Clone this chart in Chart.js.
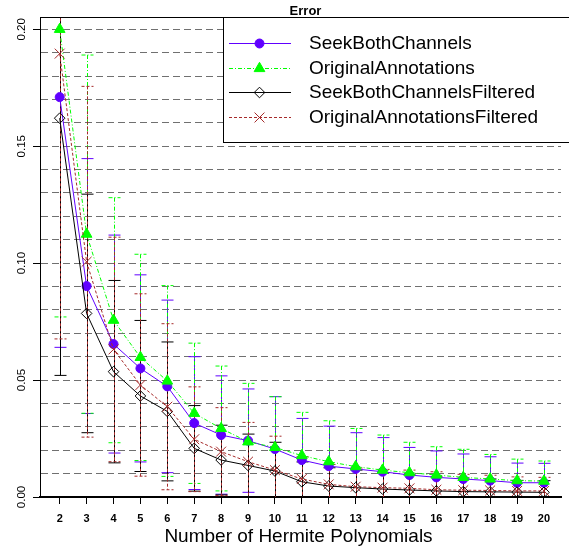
<!DOCTYPE html>
<html>
<head>
<meta charset="utf-8">
<script src="https://cdn.jsdelivr.net/npm/chart.js"></script>
<style>
  html, body { margin: 0; padding: 0; background: #fff; }
  #wrap { width: 569px; height: 547px; }
</style>
</head>
<body>
<div id="wrap"><canvas id="errChart" width="569" height="547"></canvas></div>
<script>
// values: mean error and its spread per number of polynomials
const polyCounts = [2, 3, 4, 5, 6, 7, 8, 9, 10, 11, 12, 13, 14, 15, 16, 17, 18, 19, 20];

const seekBoth = [0.171, 0.0902, 0.0654, 0.055, 0.0473, 0.0316, 0.0265, 0.0241, 0.0205, 0.0158, 0.0132, 0.012, 0.0108, 0.0094, 0.0084, 0.0077, 0.007, 0.0061, 0.0061];
const seekBothSd = [0.107, 0.0545, 0.0466, 0.040, 0.0369, 0.0284, 0.0253, 0.0221, 0.0224, 0.0178, 0.0171, 0.0155, 0.0146, 0.0118, 0.0113, 0.0107, 0.0102, 0.0084, 0.0083];

const original = [0.200, 0.1124, 0.0756, 0.0597, 0.0496, 0.0358, 0.0293, 0.0236, 0.0212, 0.0177, 0.0151, 0.013, 0.0115, 0.0104, 0.0094, 0.0084, 0.0077, 0.007, 0.0068];
const originalSd = [0.123, 0.0766, 0.0524, 0.0441, 0.0408, 0.030, 0.0267, 0.025, 0.0217, 0.0185, 0.0175, 0.0163, 0.015, 0.013, 0.0121, 0.012, 0.0105, 0.0092, 0.0086];

const seekFiltered = [0.162, 0.0785, 0.0536, 0.0432, 0.0366, 0.0208, 0.0158, 0.0135, 0.0111, 0.0065, 0.0047, 0.004, 0.0034, 0.003, 0.0026, 0.0023, 0.0022, 0.0021, 0.002];
const seekFilteredSd = [0.110, 0.051, 0.039, 0.0323, 0.0297, 0.0183, 0.0149, 0.0134, 0.0123, 0.0085, 0.0078, 0.0075, 0.007, 0.0065, 0.006, 0.0058, 0.0055, 0.005, 0.005];

const originalFiltered = [0.1896, 0.1006, 0.0631, 0.0479, 0.0386, 0.0247, 0.0194, 0.0151, 0.0115, 0.0077, 0.0054, 0.0044, 0.004, 0.0037, 0.0031, 0.0029, 0.0028, 0.0026, 0.0026];
const originalFilteredSd = [0.122, 0.075, 0.048, 0.039, 0.0355, 0.0224, 0.0188, 0.0168, 0.0145, 0.0095, 0.0085, 0.008, 0.0078, 0.0078, 0.0077, 0.0068, 0.0065, 0.006, 0.0058];

const seriesNames = ['SeekBothChannels', 'OriginalAnnotations', 'SeekBothChannelsFiltered', 'OriginalAnnotationsFiltered'];
const chartTitle = 'Error';
const xTitle = 'Number of Hermite Polynomials';

const FONT = '"Liberation Sans", Arial, Helvetica, sans-serif';
Chart.defaults.font.family = FONT;
Chart.defaults.color = '#000';

function toPoints(values) {
    return polyCounts.map((n, i) => ({ x: n, y: values[i] }));
}

function makeSet(label, values, sd, color, style, radius, fill, dash, order) {
    return {
        label,
        data: toPoints(values),
        sd,
        borderColor: color,
        borderWidth: 1,
        borderDash: dash,
        backgroundColor: fill,
        pointStyle: style,
        pointRadius: radius,
        pointBorderColor: color,
        pointBackgroundColor: fill,
        pointBorderWidth: 1,
        tension: 0,
        fill: false,
        order
    };
}

// error bars, drawn under the lines and marks
const errorBars = {
    id: 'errorBars',
    beforeDatasetsDraw(chart) {
        const { ctx, chartArea: a, scales: { x, y } } = chart;
        ctx.save();
        ctx.beginPath();
        ctx.rect(a.left, a.top, a.right - a.left, a.bottom - a.top);
        ctx.clip();
        chart.data.datasets.forEach(ds => {
            ctx.strokeStyle = ds.borderColor;
            ctx.lineWidth = 1;
            ctx.setLineDash(ds.borderDash || []);
            ds.data.forEach((p, i) => {
                const px = Math.round(x.getPixelForValue(p.x)) + 0.5;
                const top = y.getPixelForValue(p.y + ds.sd[i]);
                const bot = y.getPixelForValue(p.y - ds.sd[i]);
                ctx.beginPath();
                ctx.moveTo(px, top); ctx.lineTo(px, bot);
                ctx.moveTo(px - 6, top); ctx.lineTo(px + 6, top);
                ctx.moveTo(px - 6, bot); ctx.lineTo(px + 6, bot);
                ctx.stroke();
            });
        });
        ctx.restore();
    }
};

// box top, legend in the corner, title texts
const decorations = {
    id: 'decorations',
    afterDraw(chart) {
        const { ctx, chartArea: a } = chart;
        ctx.save();
        ctx.strokeStyle = '#000';
        ctx.lineWidth = 1;
        ctx.setLineDash([]);
        ctx.beginPath();
        ctx.moveTo(a.left, a.top + 0.5);
        ctx.lineTo(a.right, a.top + 0.5);
        ctx.stroke();

        // legend
        ctx.fillStyle = '#fff';
        ctx.fillRect(223.5, a.top + 0.5, 360, 125);
        ctx.strokeRect(223.5, a.top + 0.5, 360, 125);
        chart.data.datasets.forEach((ds, i) => {
            const ly = Math.round(43 + i * 24.7) + 0.5;
            ctx.save();
            ctx.strokeStyle = ds.borderColor;
            ctx.lineWidth = 1;
            ctx.setLineDash(ds.borderDash || []);
            ctx.beginPath();
            ctx.moveTo(229, ly);
            ctx.lineTo(291, ly);
            ctx.stroke();
            ctx.setLineDash([]);
            ctx.fillStyle = ds.pointBackgroundColor;
            Chart.helpers.drawPoint(ctx, {
                pointStyle: ds.pointStyle,
                radius: ds.pointRadius,
                rotation: 0,
                borderWidth: 1
            }, 259.5, ly);
            ctx.restore();
            ctx.fillStyle = '#000';
            ctx.font = '19px ' + FONT;
            ctx.textAlign = 'left';
            ctx.textBaseline = 'middle';
            ctx.fillText(ds.label, 309, ly);
        });

        ctx.fillStyle = '#000';
        ctx.textAlign = 'center';
        ctx.textBaseline = 'middle';
        ctx.font = 'bold 13px ' + FONT;
        ctx.fillText(chartTitle, 305.5, 11.5);
        ctx.font = '19px ' + FONT;
        ctx.fillText(xTitle, 298.5, 537);
        ctx.restore();
    }
};

const ctx = document.getElementById('errChart');
new Chart(ctx, {
    type: 'line',
    data: {
        datasets: [
            makeSet(seriesNames[0], seekBoth, seekBothSd, '#6000ff', 'circle', 4.5, '#6000ff', [], 3),
            makeSet(seriesNames[1], original, originalSd, '#00ff00', 'triangle', 6.2, '#00ff00', [4, 2, 1, 2], 2),
            makeSet(seriesNames[2], seekFiltered, seekFilteredSd, '#000000', 'rectRot', 5.3, 'rgba(255,255,255,0)', [], 1),
            makeSet(seriesNames[3], originalFiltered, originalFilteredSd, '#a52a2a', 'crossRot', 7, '#a52a2a', [3, 2], 0)
        ]
    },
    options: {
        responsive: false,
        animation: false,
        devicePixelRatio: 1,
        layout: { padding: { top: 17, left: 0, right: 0, bottom: 0 } },
        plugins: {
            legend: { display: false },
            title: { display: false },
            tooltip: { enabled: false }
        },
        scales: {
            x: {
                type: 'linear',
                min: 1.268,
                max: 20.633,
                afterFit(scale) { scale.height = 50; },
                afterBuildTicks(scale) { scale.ticks = polyCounts.map(v => ({ value: v })); },
                grid: { drawOnChartArea: false, drawTicks: true, tickLength: 7, tickColor: '#000', tickWidth: 1 },
                border: { display: true, color: '#000', width: 2 },
                ticks: {
                    autoSkip: false,
                    maxRotation: 0,
                    padding: 8,
                    color: '#000',
                    font: { size: 11, weight: 'bold' },
                    callback: v => String(v)
                }
            },
            y: {
                type: 'linear',
                min: 0,
                max: 0.20526,
                afterFit(scale) { scale.width = 40; },
                grid: {
                    drawOnChartArea: true,
                    color: '#707070',
                    lineWidth: 1,
                    tickLength: 7,
                    tickWidth: 1,
                    tickColor: c => (Math.round(c.tick.value * 100) % 5 === 0) ? '#000' : 'rgba(0,0,0,0)'
                },
                border: { display: true, color: '#000', width: 1, dash: [7, 4] },
                ticks: {
                    stepSize: 0.01,
                    autoSkip: false,
                    includeBounds: false,
                    minRotation: 90,
                    maxRotation: 90,
                    crossAlign: 'center',
                    padding: 0,
                    color: '#000',
                    font: { size: 11.5 },
                    callback: v => (Math.round(v * 100) % 5 === 0) ? v.toFixed(2) : ''
                }
            }
        }
    },
    plugins: [errorBars, decorations]
});
</script>
</body>
</html>
